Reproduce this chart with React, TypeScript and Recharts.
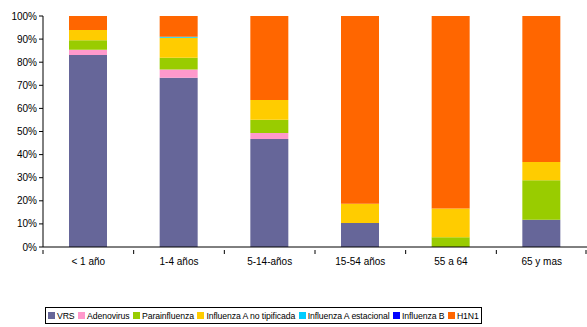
import React from "react";
import { BarChart, Bar, XAxis, YAxis, Legend } from "recharts";

const categories = ["< 1 año", "1-4 años", "5-14-años", "15-54 años", "55 a 64", "65 y mas"];
const vrs = [83.1, 73.3, 46.8, 10.4, 0, 11.8];
const adenovirus = [2.3, 3.5, 2.6, 0, 0, 0];
const parainfluenza = [4.1, 5.1, 5.7, 0, 4.2, 17.1];
const influenzaANoTip = [4.4, 8.7, 8.5, 8.3, 12.5, 7.9];
const influenzaAEstacional = [0, 0.4, 0, 0, 0, 0];
const influenzaB = [0, 0, 0, 0, 0, 0];
const h1n1 = [6.1, 9.0, 36.4, 81.3, 83.3, 63.2];
const yTicks = [0, 0.1, 0.2, 0.3, 0.4, 0.5, 0.6, 0.7, 0.8, 0.9, 1];

const series = [
  { key: "VRS", values: vrs, color: "#666699" },
  { key: "Adenovirus", values: adenovirus, color: "#FF99CC" },
  { key: "Parainfluenza", values: parainfluenza, color: "#99CC00" },
  { key: "Influenza A no tipificada", values: influenzaANoTip, color: "#FFCC00" },
  { key: "Influenza A estacional", values: influenzaAEstacional, color: "#00CCFF" },
  { key: "Influenza B", values: influenzaB, color: "#0000FF" },
  { key: "H1N1", values: h1n1, color: "#FF6600" },
];

const data = categories.map((c, i) => {
  const row: any = { name: c };
  series.forEach((s) => (row[s.key] = s.values[i]));
  return row;
});

const FONT = "Liberation Sans, Arial, sans-serif";

const XTick = (props: any) => {
  const { x, y, payload, index, visibleTicksCount } = props;
  const half = 544 / 6 / 2;
  const n = visibleTicksCount || 6;
  return (
    <g>
      <line x1={x - half} x2={x - half} y1={y - 5} y2={y - 1} stroke="#000" />
      {index === n - 1 && <line x1={x + half - 1} x2={x + half - 1} y1={y - 5} y2={y - 1} stroke="#000" />}
      <text x={x} y={y + 10} textAnchor="middle" fontSize={10} fontFamily={FONT} fill="#000">
        {payload.value}
      </text>
    </g>
  );
};

const LegendContent = () => (
  <div
    style={{
      border: "1px solid #000",
      background: "#fff",
      width: 437,
      height: 17,
      boxSizing: "border-box",
      display: "flex",
      alignItems: "center",
      paddingLeft: 2,
      fontFamily: FONT,
      fontSize: 8.7,
      letterSpacing: -0.1,
      color: "#000",
      whiteSpace: "nowrap",
      overflow: "hidden",
    }}
  >
    {series.map((s) => (
      <span key={s.key} style={{ display: "inline-flex", alignItems: "center", marginRight: 3.5 }}>
        <span style={{ display: "inline-block", width: 7, height: 7, background: s.color, marginRight: 2 }} />
        <span>{s.key}</span>
      </span>
    ))}
  </div>
);

export default function App() {
  return (
    <div style={{ position: "absolute", left: 0, top: 0 }}>
      <BarChart
        width={587}
        height={327}
        data={data}
        stackOffset="expand"
        margin={{ top: 16, right: 0, left: 0, bottom: 50 }}
      >
        <XAxis
          dataKey="name"
          tick={<XTick />}
          tickLine={false}
          axisLine={{ stroke: "#000" }}
          height={30}
          interval={0}
        />
        <YAxis
          width={43}
          ticks={yTicks}
          domain={[0, 1]}
          tickFormatter={(v: number) => `${Math.round(v * 100)}%`}
          tick={{ fontSize: 10, fontFamily: FONT, fill: "#000" }}
          tickLine={{ stroke: "#000" }}
          tickSize={4}
          tickMargin={2}
          axisLine={{ stroke: "#000" }}
          interval={0}
        />
        <Legend
          layout="vertical"
          align="center"
          verticalAlign="middle"
          content={<LegendContent />}
          wrapperStyle={{ position: "absolute", left: 45, top: 307, width: 437, height: 17 }}
        />
        {series.map((s) => (
          <Bar key={s.key} dataKey={s.key} stackId="a" fill={s.color} barSize={38} isAnimationActive={false} />
        ))}
      </BarChart>
    </div>
  );
}
